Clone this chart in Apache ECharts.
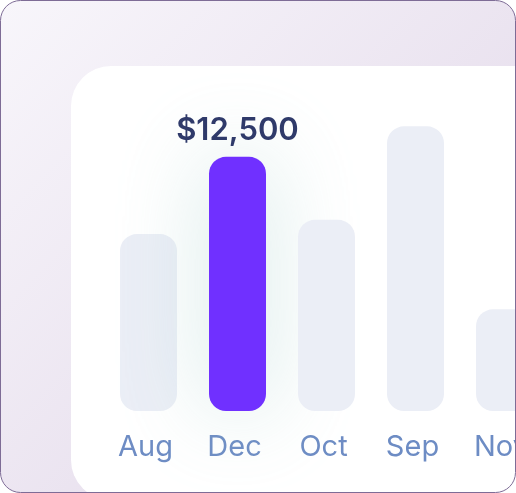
<!DOCTYPE html>
<html>
<head>
<meta charset="utf-8">
<style>
html,body{margin:0;padding:0;background:#fff;overflow:hidden;width:516px;height:493px;}
#c{width:570px;height:493px;}
</style>
<script src="https://cdn.jsdelivr.net/npm/echarts@6/dist/echarts.min.js"></script>
</head>
<body>
<div id="c"></div>
<script>
var categories = ['Aug', 'Dec', 'Oct', 'Sep', 'Nov'];
var values = [8700, 12500, 9400, 14000, 5000];
var highlightIndex = 1;
var highlightLabel = '$12,500';

var chart = echarts.init(document.getElementById('c'), null, {renderer: 'canvas'});

var seriesData = values.map(function (v, i) {
  if (i === highlightIndex) {
    return {
      value: v,
      itemStyle: {
        color: '#7030FF',
        shadowBlur: 90,
        shadowColor: 'rgba(160, 205, 200, 0.45)'
      },
      label: {
        show: true,
        position: 'top',
        distance: 11,
        formatter: highlightLabel,
        fontFamily: 'Inter',
        fontWeight: 600,
        fontSize: 31,
        color: '#2F3A6A'
      }
    };
  }
  return { value: v };
});

chart.setOption({
  animation: false,
  graphic: [
    {
      type: 'rect', z: -10, silent: true,
      shape: {x: 0.5, y: 0.5, width: 515, height: 492, r: 20},
      style: {
        fill: new echarts.graphic.LinearGradient(0, 0, 0.75, 0.75, [
          {offset: 0, color: '#F8F6FB'},
          {offset: 1, color: '#E6DDEC'}
        ]),
        stroke: 'none'
      }
    },
    {
      type: 'rect', z: -9, silent: true,
      shape: {x: 71, y: 66, width: 520, height: 434, r: 40},
      style: {fill: '#FFFFFF'}
    },
    {
      type: 'rect', z: 100, silent: true,
      shape: {x: 0.5, y: 0.5, width: 515, height: 492, r: 20},
      style: {fill: 'none', stroke: '#7E6C96', lineWidth: 1}
    },
    {
      type: 'rect', z: 99, silent: true,
      shape: {x: 516, y: 0, width: 60, height: 493},
      style: {fill: '#FFFFFF'}
    }
  ],
  grid: {left: 104, width: 445, top: 106, bottom: 82, containLabel: false},
  xAxis: {
    type: 'category',
    data: categories,
    axisLine: {show: false},
    axisTick: {show: false},
    axisLabel: {
      margin: 22,
      padding: [0, 6, 0, 0],
      fontFamily: 'Inter',
      fontSize: 29,
      color: '#6D8CC4'
    }
  },
  yAxis: {
    type: 'value',
    min: 0,
    max: 15000,
    show: false,
    splitLine: {show: false}
  },
  series: [{
    type: 'bar',
    data: seriesData,
    barWidth: 57,
    itemStyle: {color: '#EBEEF6', borderRadius: 17}
  }]
});
</script>
</body>
</html>
